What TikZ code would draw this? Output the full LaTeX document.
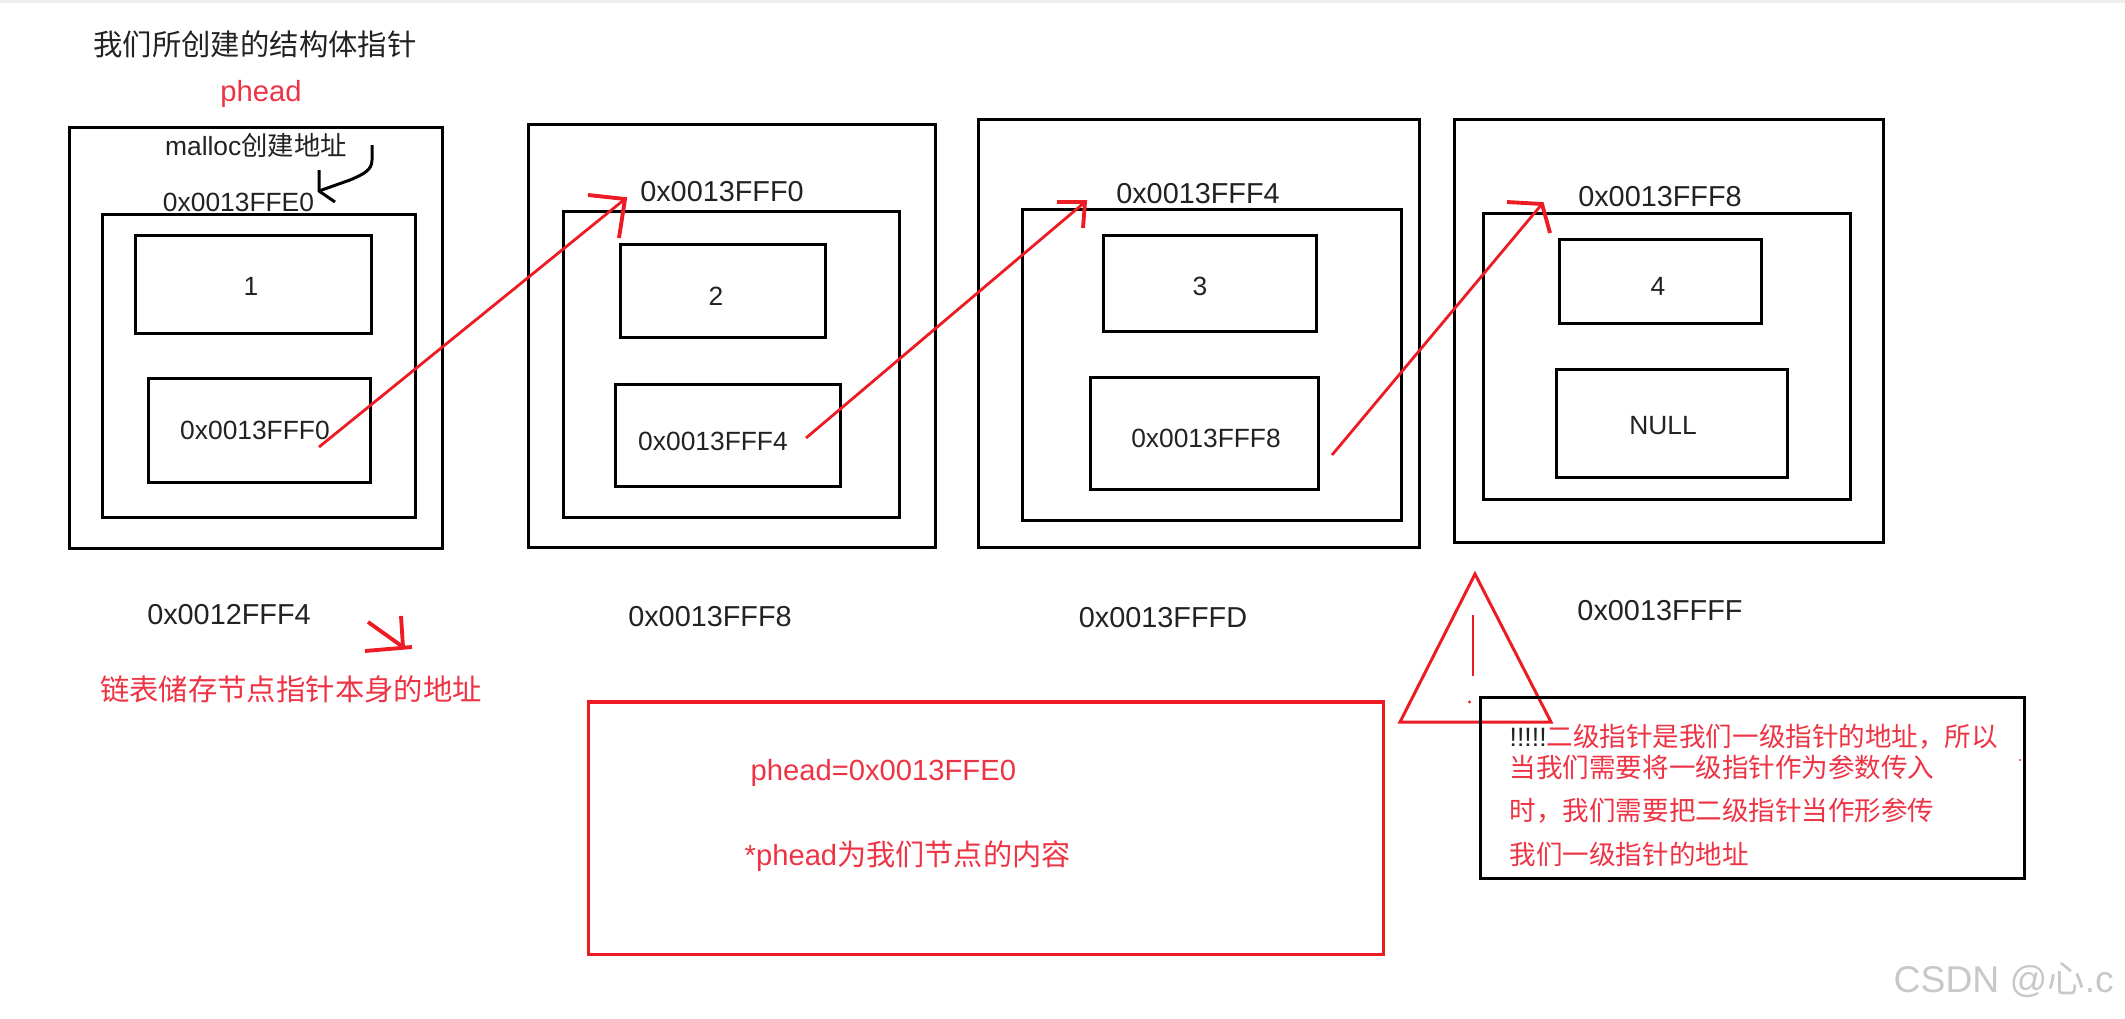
\documentclass[tikz,border=0pt]{standalone}
\usepackage{fontspec}
\setmainfont{Liberation Sans}
\newfontfamily\cjk{Noto Sans CJK SC}
\usepackage{tikz}
\definecolor{penred}{HTML}{ED1C24}
\definecolor{textred}{HTML}{EE3344}
\definecolor{ink}{HTML}{222222}
\definecolor{mark}{HTML}{C8C8C8}
\definecolor{edge}{HTML}{EEEEEE}
\tikzset{
    box/.style={draw=black, line width=0.85pt, inner sep=0pt, outer sep=0pt},
    blacklabel/.style={text=ink, inner sep=0pt, font=\fontsize{7.5}{9}\selectfont},
    addrlabel/.style={text=ink, inner sep=0pt, font=\fontsize{8.2}{10}\selectfont},
    redlabel/.style={text=textred, inner sep=0pt, font=\fontsize{8.3}{10}\selectfont},
    noteline/.style={text=textred, inner sep=0pt, anchor=west, font=\fontsize{7.55}{9}\selectfont\cjk},
    penline/.style={draw=penred, line width=0.8pt},
    headline/.style={draw=penred, line width=1.1pt},
}

\begin{document}
\begin{tikzpicture}[x=0.01cm, y=-0.01cm]
    \useasboundingbox (0,0) rectangle (2125,1018);
    \fill[edge] (0,0) rectangle (2125,3);

    \coordinate (P1) at (319,447);
    \coordinate (T1) at (625,199);
    \coordinate (L1) at (588,195);
    \coordinate (D1) at (619,238);
    \coordinate (P2) at (806,438);
    \coordinate (T2) at (1085,202);
    \coordinate (L2) at (1057,202);
    \coordinate (D2) at (1083,228);
    \coordinate (P3) at (1332,455);
    \coordinate (T3) at (1542,204);
    \coordinate (L3) at (1507,202);
    \coordinate (D3) at (1550,233);

    % Titles
    \node[blacklabel, font=\fontsize{8.35}{10}\selectfont\cjk] (title) at (255,44.5) {我们所创建的结构体指针};
    \node[redlabel] (phead) at (261,94) {phead};

    % Node #1
    \node[box, minimum width=3.72cm, minimum height=4.20cm] (outer1) at (256,338) {};
    \node[box, minimum width=3.125cm, minimum height=3.02cm] (frame1) at (258.75,366) {};
    \node[box, minimum width=2.35cm, minimum height=0.97cm] (data1) at (253.5,284.5) {};
    \node[box, minimum width=2.215cm, minimum height=1.03cm] (next1) at (259.75,430.5) {};
    \node[blacklabel] (mallocnote) at (256,145) {malloc{\cjk 创建地址}};
    \node[blacklabel] (addr1) at (238.5,202) {0x0013FFE0};
    \node[blacklabel] (val1) at (251,286) {1};
    \node[blacklabel] (ptr1) at (255,430) {0x0013FFF0};
    \node[addrlabel] (self1) at (229,615) {0x0012FFF4};

    % Node #2
    \node[box, minimum width=4.06cm, minimum height=4.22cm] (outer2) at (732,336) {};
    \node[box, minimum width=3.35cm, minimum height=3.05cm] (frame2) at (731.5,364.5) {};
    \node[box, minimum width=2.04cm, minimum height=0.92cm] (data2) at (723,291) {};
    \node[box, minimum width=2.24cm, minimum height=1.01cm] (next2) at (728,435.5) {};
    \node[addrlabel] (addr2) at (722,192) {0x0013FFF0};
    \node[blacklabel] (val2) at (716,296) {2};
    \node[blacklabel] (ptr2) at (713,441) {0x0013FFF4};
    \node[addrlabel] (self2) at (710,617) {0x0013FFF8};

    % Node #3
    \node[box, minimum width=4.404cm, minimum height=4.27cm] (outer3) at (1198.8,333.5) {};
    \node[box, minimum width=3.78cm, minimum height=3.10cm] (frame3) at (1212,365) {};
    \node[box, minimum width=2.12cm, minimum height=0.95cm] (data3) at (1210,283.5) {};
    \node[box, minimum width=2.275cm, minimum height=1.11cm] (next3) at (1204.75,433.5) {};
    \node[addrlabel] (addr3) at (1198,194) {0x0013FFF4};
    \node[blacklabel] (val3) at (1200,286) {3};
    \node[blacklabel] (ptr3) at (1206,438) {0x0013FFF8};
    \node[addrlabel] (self3) at (1163,618) {0x0013FFFD};

    % Node #4
    \node[box, minimum width=4.284cm, minimum height=4.22cm] (outer4) at (1668.8,331) {};
    \node[box, minimum width=3.66cm, minimum height=2.85cm] (frame4) at (1667,356.5) {};
    \node[box, minimum width=2.02cm, minimum height=0.83cm] (data4) at (1660.5,281.5) {};
    \node[box, minimum width=2.305cm, minimum height=1.07cm] (next4) at (1671.75,423.5) {};
    \node[addrlabel] (addr4) at (1660,197) {0x0013FFF8};
    \node[blacklabel] (val4) at (1658,286) {4};
    \node[blacklabel] (ptrnull) at (1663,426) {NULL};
    \node[addrlabel] (self4) at (1660,611) {0x0013FFFF};

    % Malloc Arrow
    \draw[line width=0.85pt] (372,145) -- (372,160) .. controls (372,170) and (364,174) .. (350,180) -- (319,191);
    \draw[line width=0.85pt] (319,170) -- (319,191) -- (335,202);

    % Pointer Arrows
    \draw[penline] (P1) -- (T1);
    \draw[headline] (L1) -- (T1) -- (D1);
    \draw[penline] (P2) -- (T2);
    \draw[headline] (L2) -- (T2) -- (D2);
    \draw[penline] (P3) -- (T3);
    \draw[headline] (L3) -- (T3) -- (D3);

    % Note under Node #1
    \draw[headline] (368,622) -- (403,647);
    \draw[headline] (401,616) -- (403,647);
    \draw[headline] (365,651) -- (412,647);
    \node[redlabel, font=\fontsize{8.35}{10}\selectfont\cjk] (storenote) at (291,689) {链表储存节点指针本身的地址};

    % Red Box
    \node[draw=penred, line width=0.9pt, inner sep=0pt, outer sep=0pt, minimum width=7.94cm, minimum height=2.52cm] (redbox) at (986,828) {};
    \node[redlabel, anchor=west] (valuenote) at (750,773) {phead=0x0013FFE0};
    \node[redlabel, anchor=west] (derefnote) at (744,856) {*phead{\cjk 为我们节点的内容}};

    % Warning Sign
    \draw[penline, line width=0.85pt] (1475,574) -- (1551,722) -- (1400,722) -- cycle;
    \draw[penline] (1473,615) -- (1473,676);
    \fill[penred] (1469.5,702) circle (1.6);

    % Second Level Pointer Note
    \node[box, minimum width=5.43cm, minimum height=1.80cm] (notebox) at (1752.5,788) {};
    \fill[penred] (2020,760) circle (1);
    \node[noteline] (noteA) at (1509,737) {{\fontspec{Liberation Sans}\textcolor{ink}{!!!!!}}二级指针是我们一级指针的地址，所以};
    \node[noteline] (noteB) at (1509,767) {当我们需要将一级指针作为参数传入};
    \node[noteline] (noteC) at (1509,811) {时，我们需要把二级指针当作形参传};
    \node[noteline] (noteD) at (1509,854) {我们一级指针的地址};

    % Watermark
    \node[text=mark, anchor=west, inner sep=0pt, font=\fontsize{10.6}{12}\selectfont] (csdn) at (1893,980) {CSDN @{\cjk 心}.c};
\end{tikzpicture}
\end{document}
